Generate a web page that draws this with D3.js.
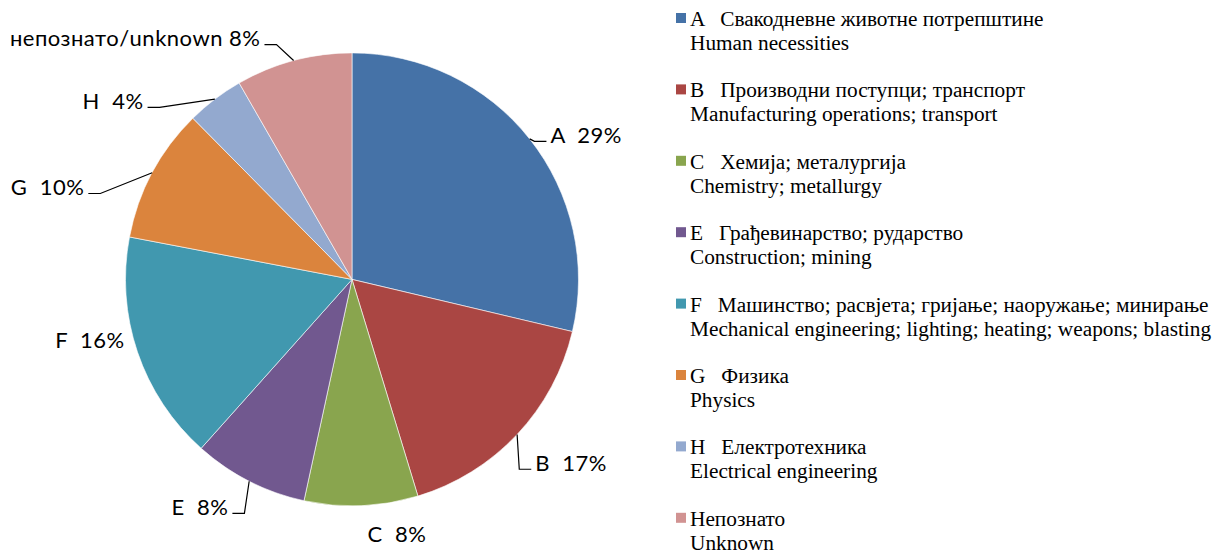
<!DOCTYPE html>
<html>
<head>
<meta charset="utf-8">
<script src="https://cdn.jsdelivr.net/npm/d3@7"></script>
<style>
  body { margin: 0; background: #fff; }
  svg { display: block; }
  .slice-label { font-family: Lato, "Open Sans", sans-serif; font-size: 22px; letter-spacing: 0.5px; fill: #000; white-space: pre; }
  .legend text { font-family: "Liberation Serif", "Times New Roman", serif; font-size: 21.3px; fill: #000; white-space: pre; }
</style>
</head>
<body>
<svg id="chart" width="1225" height="555"></svg>
<script>
// slice data (share in %; labels show the rounded value)
const codes = ['A', 'B', 'C', 'E', 'F', 'G', 'H', 'U'];
const shares = [28.7, 16.6, 8.1, 8.2, 16.4, 9.6, 4.1, 8.3];
const pieLabels = ['A  29%', 'B  17%', 'C  8%', 'E  8%', 'F  16%', 'G  10%', 'H  4%', 'непознато/unknown 8%'];
const legendSr = ['A   Свакодневне животне потрепштине', 'B   Производни поступци; транспорт', 'C   Хемија; металургија',
  'E   Грађевинарство; рударство', 'F   Машинство; расвјета; гријање; наоружање; минирање', 'G   Физика',
  'H   Електротехника', 'Непознато'];
const legendEn = ['Human necessities', 'Manufacturing operations; transport', 'Chemistry; metallurgy',
  'Construction; mining', 'Mechanical engineering; lighting; heating; weapons; blasting', 'Physics',
  'Electrical engineering', 'Unknown'];

const colors = ['#4572A7', '#AA4643', '#89A54E', '#71588F', '#4198AF', '#DB843D', '#93A9CF', '#D19392'];

// where each data label sits (angle from 12 o'clock in degrees, distance from centre) and whether it has a leader
const labelPlace = [[58.4, 275, true], [130, 286, true], [170, 259, false], [213.7, 274, true],
  [256.9, 269, false], [286.8, 318, true], [306.7, 298, true], [318, 324, true]];

const cx = 352, cy = 279.4, radius = 226.5;

const svg = d3.select('#chart');
const color = d3.scaleOrdinal().domain(codes).range(colors);

const data = codes.map((c, i) => ({ code: c, value: shares[i], label: pieLabels[i], place: labelPlace[i] }));

const pie = d3.pie().value(d => d.value).sort(null);
const arc = d3.arc().innerRadius(0).outerRadius(radius);
const arcs = pie(data);

const g = svg.append('g').attr('transform', `translate(${cx},${cy})`);

g.selectAll('path.slice')
  .data(arcs)
  .enter().append('path')
    .attr('class', 'slice')
    .attr('d', arc)
    .attr('fill', d => color(d.data.code))
    .attr('stroke', '#fff')
    .attr('stroke-width', 0.6);

const polar = (deg, r) => {
  const a = deg * Math.PI / 180;
  return [r * Math.sin(a), -r * Math.cos(a)];
};

const labels = g.selectAll('text.slice-label')
  .data(arcs)
  .enter().append('text')
    .attr('class', 'slice-label')
    .attr('text-anchor', 'middle')
    .attr('x', d => polar(d.data.place[0], d.data.place[1])[0])
    .attr('y', d => polar(d.data.place[0], d.data.place[1])[1])
    .attr('dy', '0.34em')
    .text(d => d.data.label);

// leader lines: from the arc at the slice's middle angle, an elbow, then a short level run to the label
labels.each(function(d) {
  if (!d.data.place[2]) return;
  const w = this.getComputedTextLength();
  const [lx, ly] = polar(d.data.place[0], d.data.place[1]);
  const mid = (d.startAngle + d.endAngle) / 2;
  const start = [radius * Math.sin(mid), -radius * Math.cos(mid)];
  const right = lx > 0;
  const endX = right ? lx - w / 2 - 4 : lx + w / 2 + 4;
  const elbowX = right ? endX - 12 : endX + 12;
  const yy = ly + 6;
  g.append('path')
    .attr('d', d3.line()([start, [elbowX, yy], [endX, yy]]))
    .attr('fill', 'none')
    .attr('stroke', '#000')
    .attr('stroke-width', 1.2);
});

// legend
const legend = svg.append('g').attr('class', 'legend').attr('transform', 'translate(676,26)');
const rowStep = 71.4;

const rows = legend.selectAll('g.row')
  .data(codes)
  .enter().append('g')
    .attr('class', 'row')
    .attr('transform', (d, i) => `translate(0,${i * rowStep})`);

rows.append('rect')
  .attr('x', 0)
  .attr('y', -13)
  .attr('width', 10)
  .attr('height', 10)
  .attr('fill', d => color(d));

rows.append('text')
  .attr('x', 14)
  .attr('y', 0)
  .text((d, i) => legendSr[i]);

rows.append('text')
  .attr('x', 14)
  .attr('y', 24)
  .text((d, i) => legendEn[i]);
</script>
</body>
</html>
